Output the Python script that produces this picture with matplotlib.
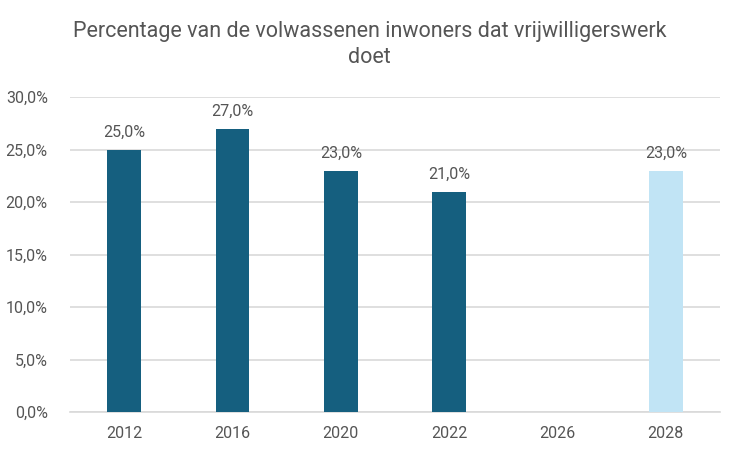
import numpy as np
import matplotlib.pyplot as plt
from matplotlib.ticker import FuncFormatter

plt.rcParams['font.family'] = ['Roboto', 'DejaVu Sans']

# data
years = ["2012", "2016", "2020", "2022", "2026", "2028"]
values = [25.0, 27.0, 23.0, 21.0, np.nan, 23.0]
kind = ["real", "real", "real", "real", "real", "target"]

dark = "#155F7F"
light = "#C1E4F5"
grey = "#555555"

fig = plt.figure(figsize=(7.32, 4.55), dpi=100)
ax = fig.add_axes([0.0956, 0.0945, 0.888, 0.692])

x = np.arange(len(years))
cols = [dark if k == "real" else light for k in kind]
vals = [0 if np.isnan(v) else v for v in values]
bars = ax.bar(x, vals, width=0.31, color=cols, zorder=3)

for xi, v in zip(x, values):
    if not np.isnan(v):
        ax.text(xi, v + 0.9, f"{v:.1f}%".replace(".", ","), ha="center", va="bottom",
                fontsize=11.5, color=grey)

ax.set_xlim(-0.5, len(years) - 0.5)
ax.set_ylim(0, 30)
ax.set_yticks(np.arange(0, 31, 5))
ax.yaxis.set_major_formatter(FuncFormatter(lambda v, p: f"{v:.1f}%".replace(".", ",")))
ax.set_xticks(x)
ax.set_xticklabels(years)
ax.tick_params(axis="both", length=0, labelsize=11.5, labelcolor=grey)
ax.tick_params(axis="y", pad=16)
ax.tick_params(axis="x", pad=10)
ax.grid(axis="y", color="#D9D9D9", linewidth=1.2, zorder=0)
for s in ["top", "right", "left"]:
    ax.spines[s].set_visible(False)
ax.spines["bottom"].set_color("#D9D9D9")
ax.spines["bottom"].set_linewidth(1.2)

fig.text(0.505, 0.903, "Percentage van de volwassenen inwoners dat vrijwilligerswerk\ndoet",
         ha="center", va="center", fontsize=15.5, color=grey, linespacing=1.3)

fig.savefig("out.png", dpi=100)
